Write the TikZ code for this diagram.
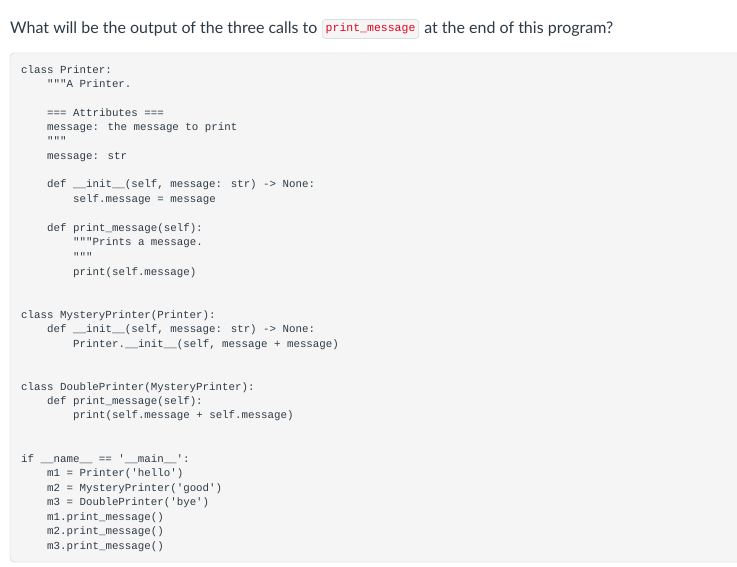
\documentclass[tikz,border=0pt]{standalone}
\usepackage{fontspec}
\setmainfont{Lato}
\newfontfamily\code{Liberation Mono}
\definecolor{txt}{HTML}{2D3B45}
\definecolor{codebg}{HTML}{F5F5F5}
\definecolor{codeline}{HTML}{C7CDD1}
\definecolor{red1}{HTML}{E0061F}
\begin{document}
\begin{tikzpicture}[x=1pt,y=-1pt,
  cl/.style={anchor=base west,inner sep=0pt,font=\code\fontsize{10.8}{12}\selectfont,text=txt},
  ttl/.style={anchor=base west,inner sep=0pt,font=\fontsize{16}{19}\selectfont,text=txt}]
\useasboundingbox (0,0) rectangle (737,567);
\fill[white] (0,0) rectangle (737,567);
\draw[codeline,fill=codebg,rounded corners=4pt] (10,53) rectangle (745,562);
\node[ttl] (t1) at (10,34) {What will be the output of the three calls to};
\node[draw=codeline,fill=codebg,rounded corners=3pt,inner xsep=3.5pt,inner ysep=4pt,anchor=west,
  font=\code\fontsize{11.5}{12}\selectfont,text=red1] (ic) at (322,29) {print\_message};
\node[ttl,anchor=base west] (t2) at ([xshift=5pt]ic.east |- t1.base) {at the end of this program?};
\def\L#1#2#3{\node[cl] (l#1) at (#2,#1) {#3};}
\L{74}{21}{class Printer:}
\L{88}{47}{"""A Printer.}
\L{117}{47}{=== Attributes ===}
\L{131}{47}{message: the message to print}
\L{145}{47}{"""}
\L{160}{47}{message: str}
\L{188}{47}{def \_\_init\_\_(self, message: str) -> None:}
\L{203}{73}{self.message = message}
\L{232}{47}{def print\_message(self):}
\L{246}{73}{"""Prints a message.}
\L{260}{73}{"""}
\L{275}{73}{print(self.message)}
\L{318}{21}{class MysteryPrinter(Printer):}
\L{332}{47}{def \_\_init\_\_(self, message: str) -> None:}
\L{347}{73}{Printer.\_\_init\_\_(self, message + message)}
\L{390}{21}{class DoublePrinter(MysteryPrinter):}
\L{404}{47}{def print\_message(self):}
\L{418}{73}{print(self.message + self.message)}
\L{462}{21}{if \_\_name\_\_ == '\_\_main\_\_':}
\L{476}{47}{m1 = Printer('hello')}
\L{491}{47}{m2 = MysteryPrinter('good')}
\L{505}{47}{m3 = DoublePrinter('bye')}
\L{520}{47}{m1.print\_message()}
\L{534}{47}{m2.print\_message()}
\L{549}{47}{m3.print\_message()}
\end{tikzpicture}
\end{document}
